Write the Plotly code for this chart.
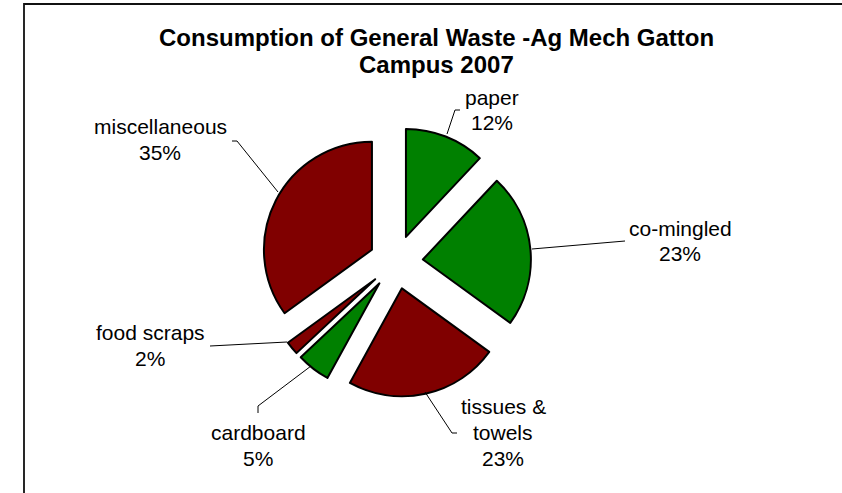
import plotly.graph_objects as go

W, H = 842, 493

categories = ["paper", "co-mingled", "tissues & towels", "cardboard", "food scraps", "miscellaneous"]
label_lines = [["paper"], ["co-mingled"], ["tissues &", "towels"], ["cardboard"], ["food scraps"], ["miscellaneous"]]
values = [12, 23, 23, 5, 2, 35]
colors = ["#008000", "#008000", "#800000", "#008000", "#800000", "#800000"]

title_lines = ["Consumption of General Waste -Ag Mech Gatton", "Campus 2007"]

# label block centres (pixels) and leader-line paths (pixels)
label_pos = [(492, 110), (680, 241), (503, 432), (258, 445), (150, 345), (160, 140)]
leaders = [
    [(460, 110), (455, 110), (447, 134)],
    [(625, 241), (532, 249)],
    [(425, 392), (452, 433), (457, 433)],
    [(258, 413), (258, 406), (311, 366)],
    [(210, 346), (287, 342)],
    [(232, 141), (237, 141), (278, 192)],
]
LINE_GAP = 26

def px(x):
    return x / W

def py(y):
    return 1 - y / H

total = sum(values)

fig = go.Figure()
fig.add_trace(go.Pie(
    labels=categories,
    values=values,
    sort=False,
    direction="clockwise",
    rotation=0,
    pull=[0.25] * len(values),
    marker=dict(colors=colors, line=dict(color="black", width=2)),
    textinfo="none",
    hoverinfo="none",
    showlegend=False,
    domain=dict(x=[px(261), px(531)], y=[py(397), py(127)]),
))

annotations = []
label_font = dict(family="Liberation Sans, Arial, sans-serif", size=21, color="black")
for lines, v, (x, y) in zip(label_lines, values, label_pos):
    pct = round(v / total * 100)
    all_lines = lines + [f"{pct}%"]
    n = len(all_lines)
    for i, t in enumerate(all_lines):
        yy = y + (i - (n - 1) / 2) * LINE_GAP
        annotations.append(dict(
            x=px(x), y=py(yy), xref="paper", yref="paper",
            text=t, showarrow=False, xanchor="center", yanchor="middle",
            font=label_font,
        ))
for i, t in enumerate(title_lines):
    annotations.append(dict(
        x=px(437), y=py(37 + i * 27), xref="paper", yref="paper",
        text=f"<b>{t}</b>", showarrow=False, xanchor="center", yanchor="middle",
        font=dict(family="Liberation Sans, Arial, sans-serif", size=24, color="black"),
    ))

shapes = []
for pts in leaders:
    path = "M " + " L ".join(f"{px(x)},{py(y)}" for x, y in pts)
    shapes.append(dict(type="path", xref="paper", yref="paper", path=path,
                       line=dict(color="black", width=1)))
# chart frame (top and left edges visible)
shapes.append(dict(type="path", xref="paper", yref="paper",
                   path=f"M {px(24)},{py(H + 20)} L {px(24)},{py(4)} L {px(W + 20)},{py(4)}",
                   line=dict(color="#111111", width=1.8)))

fig.update_layout(
    width=W, height=H,
    margin=dict(l=0, r=0, t=0, b=0),
    paper_bgcolor="white", plot_bgcolor="white",
    annotations=annotations, shapes=shapes,
)

fig.write_html("out.html", config={"displayModeBar": False},
               post_script="document.body.style.margin='0';")
